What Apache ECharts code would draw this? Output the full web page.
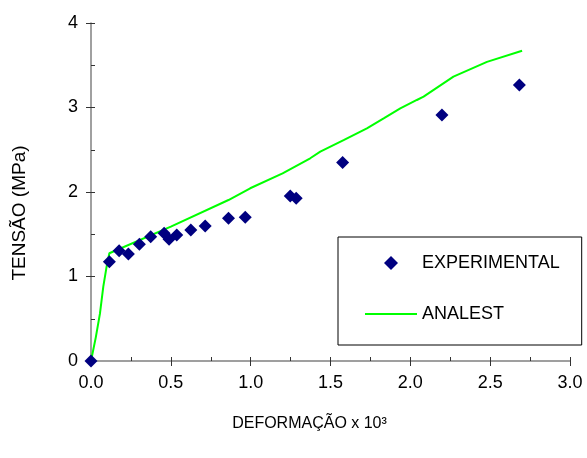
<!DOCTYPE html>
<html>
<head>
<meta charset="utf-8">
<script src="https://cdn.jsdelivr.net/npm/echarts@6/dist/echarts.min.js"></script>
<style>
  html, body { margin: 0; padding: 0; background: #fff; }
  #echarts { width: 587px; height: 458px; }
</style>
</head>
<body>
<div id="echarts"></div>
<script>
// experimental points (deformation x10^3, tension MPa)
const expX = [0, 0.115, 0.176, 0.234, 0.303, 0.374, 0.458, 0.489, 0.537, 0.625, 0.715, 0.861, 0.966, 1.248, 1.285, 1.576, 2.198, 2.683];
const expY = [0, 1.175, 1.305, 1.266, 1.381, 1.471, 1.511, 1.44, 1.49, 1.55, 1.598, 1.69, 1.70, 1.953, 1.925, 2.35, 2.911, 3.266];
// ANALEST curve
const anaX = [0, 0.03, 0.056, 0.077, 0.098, 0.115, 0.5, 0.861, 0.997, 1.2, 1.373, 1.436, 1.582, 1.728, 1.833, 1.937, 2.041, 2.083, 2.27, 2.48, 2.70];
const anaY = [0, 0.28, 0.56, 0.88, 1.12, 1.275, 1.59, 1.905, 2.044, 2.22, 2.399, 2.477, 2.615, 2.754, 2.872, 2.99, 3.089, 3.128, 3.365, 3.54, 3.672];

const chartDom = document.getElementById('echarts');
const myChart = echarts.init(chartDom);
const font = 'Liberation Sans, Arial, sans-serif';

const zip = (xs, ys) => xs.map((x, i) => [x, ys[i]]);

let option = {
    animation: false,
    textStyle: { fontFamily: font },
    grid: { left: 91, top: 23, right: 17, bottom: 97, show: false },
    legend: {
        orient: 'vertical',
        left: 338,
        top: 237,
        padding: [17, 22, 22, 27],
        itemGap: 33,
        itemWidth: 52,
        itemHeight: 14,
        symbolKeepAspect: true,
        borderColor: '#000',
        borderWidth: 1,
        borderRadius: 0,
        textStyle: { fontSize: 18, color: '#000', fontFamily: font },
        data: [
            { name: 'EXPERIMENTAL', icon: 'path://M0,-1L1,0L0,1L-1,0Z', itemStyle: { color: '#000080', opacity: 1 } },
            { name: 'ANALEST', icon: 'path://M0,6L52,6L52,8L0,8Z', itemStyle: { color: '#00ff00', opacity: 1 } }
        ]
    },
    xAxis: [
        {
            type: 'value',
            min: 0, max: 3, interval: 0.5,
            name: 'DEFORMAÇÃO x 10³',
            nameLocation: 'middle',
            nameGap: 55,
            nameTextStyle: { fontSize: 16, color: '#000', padding: [0, 42, 0, 0] },
            axisLine: { show: true, onZero: false, lineStyle: { color: '#808080', width: 1.5 } },
            axisTick: { show: true, inside: true, length: 4, lineStyle: { color: '#333' } },
            minorTick: { show: true, splitNumber: 2, length: 4, lineStyle: { color: '#333' } },
            axisLabel: { fontSize: 18, color: '#000', margin: 13, formatter: v => v.toFixed(1) },
            splitLine: { show: false }
        },
        {
            type: 'value', position: 'bottom',
            min: 0, max: 3, interval: 0.5,
            axisLine: { show: false },
            axisTick: { show: true, length: 5, lineStyle: { color: '#333' } },
            axisLabel: { show: false },
            splitLine: { show: false }
        }
    ],
    yAxis: [
        {
            type: 'value',
            min: 0, max: 4, interval: 1,
            name: 'TENSÃO (MPa)',
            nameLocation: 'middle',
            nameGap: 62,
            nameTextStyle: { fontSize: 19, color: '#000', padding: [0, 42, 0, 0] },
            axisLine: { show: true, onZero: false, lineStyle: { color: '#808080', width: 1.5 } },
            axisTick: { show: true, inside: true, length: 4, lineStyle: { color: '#333' } },
            minorTick: { show: true, splitNumber: 2, length: 4, lineStyle: { color: '#333' } },
            axisLabel: { fontSize: 18, color: '#000', margin: 13 },
            splitLine: { show: false }
        },
        {
            type: 'value', position: 'left',
            min: 0, max: 4, interval: 1,
            axisLine: { show: false },
            axisTick: { show: true, length: 5, lineStyle: { color: '#333' } },
            axisLabel: { show: false },
            splitLine: { show: false }
        }
    ],
    series: [
        {
            name: 'EXPERIMENTAL',
            type: 'scatter',
            symbol: 'diamond',
            symbolSize: 13,
            itemStyle: { color: '#000080', opacity: 1 },
            data: zip(expX, expY),
            z: 3
        },
        {
            name: 'ANALEST',
            type: 'line',
            showSymbol: false,
            symbol: 'none',
            lineStyle: { color: '#00ff00', width: 2 },
            itemStyle: { color: '#00ff00' },
            data: zip(anaX, anaY),
            z: 2
        }
    ]
};
option && myChart.setOption(option);
</script>
</body>
</html>
